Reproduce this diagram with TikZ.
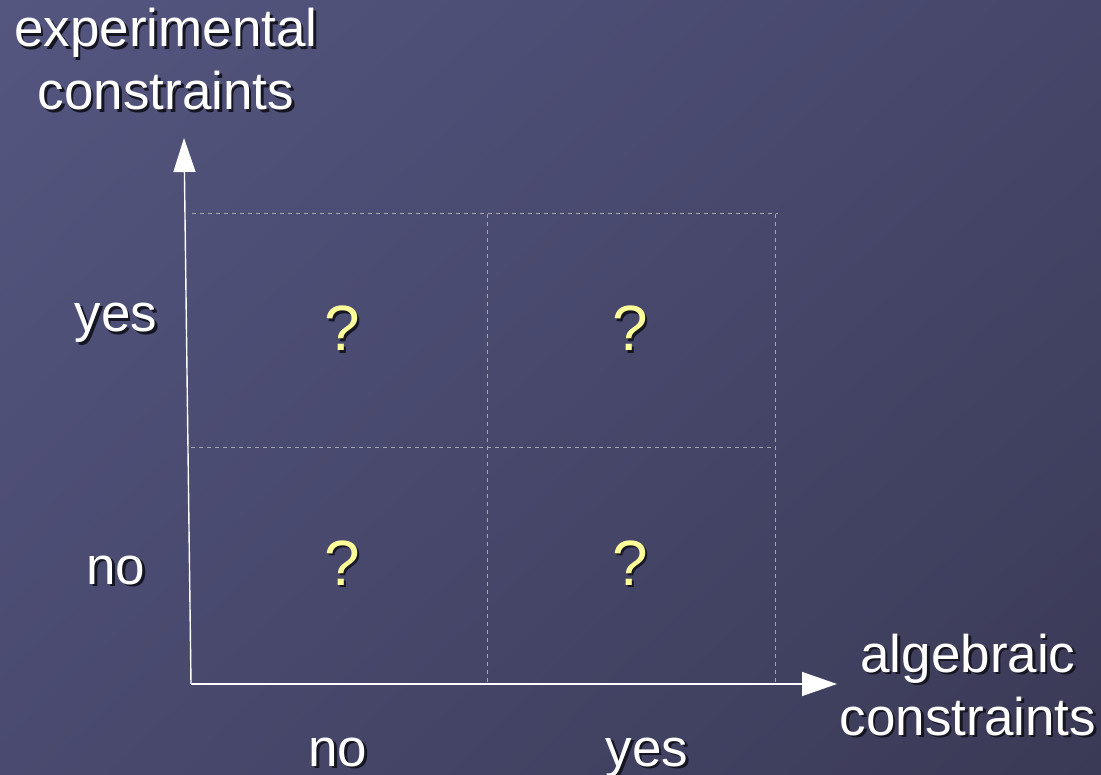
\documentclass[tikz,border=0pt]{standalone}
\usepackage{fontspec}
\setmainfont{Liberation Sans}
\usetikzlibrary{arrows.meta,shadings}
\definecolor{bgUL}{RGB}{84,86,128}
\definecolor{bgUR}{RGB}{70,70,106}
\definecolor{bgLL}{RGB}{74,74,112}
\definecolor{bgLR}{RGB}{58,58,86}
\definecolor{shadowc}{RGB}{22,22,34}
\definecolor{qyellow}{RGB}{255,255,153}
\definecolor{gridc}{RGB}{165,165,178}
\newcommand\shd[1]{\leavevmode\rlap{\kern2.5pt\raisebox{-2.5pt}{\textcolor{shadowc}{#1}}}#1}
\tikzset{
  lbl/.style={text=white, inner sep=0pt, anchor=base, font=\fontsize{53}{55}\selectfont},
  biglbl/.style={lbl, align=center, font=\fontsize{53}{63}\selectfont},
  qmark/.style={text=qyellow, inner sep=0pt, anchor=base, font=\fontsize{64}{70}\selectfont},
  gridline/.style={draw=gridc, line width=1pt, dash pattern=on 4pt off 4pt},
  axis/.style={draw=white, line width=1.4pt},
}
\begin{document}
\begin{tikzpicture}[x=1pt,y=-1pt]
\useasboundingbox (0,0) rectangle (1101,775);
\shade[upper left=bgUL, upper right=bgUR, lower left=bgLL, lower right=bgLR] (0,0) rectangle (1101,775);
% grid coordinates
\coordinate (g00) at (192,214);
\coordinate (g0e) at (778,214);
\coordinate (gm0) at (191,448);
\coordinate (gme) at (775,448);
\coordinate (v1t) at (487,214);
\coordinate (v1b) at (487,684);
\coordinate (v2t) at (775,214);
\coordinate (v2b) at (775,684);
\draw[gridline] (g00) -- (g0e);
\draw[gridline] (gm0) -- (gme);
\draw[gridline] (v1t) -- (v1b);
\draw[gridline] (v2t) -- (v2b);
% axes
\coordinate (O) at (191,684);
\coordinate (Ytip) at (184,138);
\coordinate (Xtip) at (837,684);
\draw[axis, -{Triangle[length=34pt,width=22pt]}] (O) -- (Ytip);
\draw[axis, -{Triangle[length=35pt,width=24pt]}] (O) -- (Xtip);
% labels (base anchor = baseline of last line)
\node[biglbl] (ylabel) at (166,110) {\shd{experimental}\\\shd{constraints}};
\node[biglbl] (xlabel) at (968,735) {\shd{algebraic}\\\shd{constraints}};
\node[lbl] (yyes) at (116,332) {\shd{yes}};
\node[lbl] (yno) at (116,584) {\shd{no}};
\node[lbl] (xno) at (338,766) {\shd{no}};
\node[lbl] (xyes) at (647,766) {\shd{yes}};
\node[qmark] (q11) at (342,351) {\shd{?}};
\node[qmark] (q12) at (630,351) {\shd{?}};
\node[qmark] (q21) at (342,585) {\shd{?}};
\node[qmark] (q22) at (630,585) {\shd{?}};
\end{tikzpicture}
\end{document}
